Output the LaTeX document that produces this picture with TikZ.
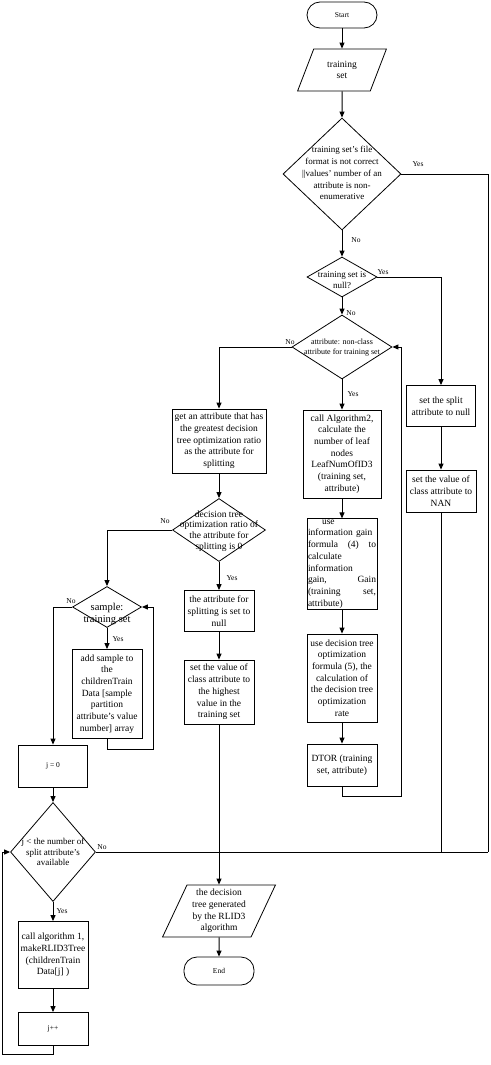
\documentclass[tikz,border=0pt]{standalone}
\usepackage{fontspec}
\setmainfont{Liberation Serif}
\usetikzlibrary{arrows}
\usetikzlibrary{arrows.meta}
\usetikzlibrary{shapes.geometric}

% text of a decision, kept out of the size of the diamond
\newcommand{\dtxt}[2][0pt]{\makebox[0pt]{\smash{\raisebox{\dimexpr-0.25em-#1\relax}{\begin{tabular}{@{}c@{}}#2\end{tabular}}}}}

\begin{document}
\begin{tikzpicture}[x=1pt,y=-1pt,
    >={Triangle[length=6pt,width=5pt]},
    line/.style={line width=1pt},
    box/.style={draw,line width=0.8pt,rectangle,align=center,inner sep=1pt,font=\fontsize{9.5}{11.7}\selectfont},
    dec/.style={draw,line width=0.8pt,diamond,inner sep=0pt},
    io/.style={draw,line width=0.8pt,trapezium,trapezium left angle=65,trapezium right angle=115,trapezium stretches=true,align=center,inner sep=0pt,font=\fontsize{9.5}{11.7}\selectfont},
    term/.style={draw,line width=0.8pt,rectangle,rounded corners=13pt,minimum width=70pt,font=\fontsize{7.5}{9}\selectfont},
    lbl/.style={inner sep=0pt,font=\fontsize{7.5}{9}\selectfont}]

    % keep the page as large as the picture
    \useasboundingbox (0,0) rectangle (490,1065);

    % main column
    \node[term,minimum height=26pt] (start) at (342,15) {Start};
    \node[io,minimum width=89pt,minimum height=42pt] (tset) at (342,70) {training\\set};
    \node[dec,minimum width=118pt,minimum height=112pt,font=\fontsize{9}{11.7}\selectfont] (chk) at (342,174)
      {\dtxt{training set's file\\format is not correct\\||values' number of an\\attribute is non-\\enumerative}};
    \node[dec,minimum width=70pt,minimum height=40pt,font=\fontsize{9}{10.5}\selectfont] (isnull) at (342,277)
      {\dtxt[4pt]{training set is\\null?}};
    \node[dec,minimum width=100pt,minimum height=64pt,font=\fontsize{8}{10}\selectfont] (attr) at (342,347)
      {\dtxt{attribute: non-class\\attribute for training set}};
    \node[box,minimum width=78pt,minimum height=88pt] (alg2) at (342,454)
      {call Algorithm2,\\calculate the\\number of leaf\\nodes\\LeafNumOfID3\\(training set,\\attribute)};
    \node[box,text width=68pt,align=left,minimum height=81pt] (gain) at (342,564)
      {\hspace*{14pt}use\\information gain\\formula\hfill(4)\hfill to\\calculate\\information\\gain,\hfill Gain\\(training\hfill set,\\attribute)};
    \node[box,minimum width=70pt,minimum height=88pt] (dtopt) at (342,678)
      {use decision tree\\optimization\\formula (5), the\\calculation of\\the decision tree\\optimization\\rate};
    \node[box,minimum width=70pt,minimum height=42pt] (dtor) at (342,765) {DTOR (training\\set, attribute)};

    % right column
    \node[box,minimum width=69pt,minimum height=41pt] (rsplit) at (441,406) {set the split\\attribute to null};
    \node[box,minimum width=70pt,minimum height=42pt] (nan) at (441,491) {set the value of\\class attribute to\\NAN};

    % middle column
    \node[box,minimum width=94pt,minimum height=64pt] (getattr) at (219,441)
      {get an attribute that has\\the greatest decision\\tree optimization ratio\\as the attribute for\\splitting};
    \node[dec,minimum width=93pt,minimum height=63pt,font=\fontsize{9.5}{10.8}\selectfont] (iszero) at (219,530)
      {\dtxt[1pt]{decision tree\\optimization ratio of\\the attribute for\\splitting is 0}};
    \node[box,minimum width=70pt,minimum height=41pt] (msplit) at (219,611) {the attribute for\\splitting is set to\\null};
    \node[box,minimum width=70pt,minimum height=64pt] (highval) at (219,692)
      {set the value of\\class attribute to\\the highest\\value in the\\training set};
    \node[io,minimum width=113pt,minimum height=52pt] (out) at (219,911)
      {the decision\\tree generated\\by the RLID3\\algorithm};
    \node[term,minimum height=28pt] (stop) at (219,971) {End};

    % left columns
    \node[dec,minimum width=69pt,minimum height=41pt,font=\fontsize{10.5}{12}\selectfont] (sample) at (107,607)
      {\dtxt[7pt]{sample:\\training set}};
    \node[box,minimum width=70pt,minimum height=89pt] (addsmp) at (107,694)
      {add sample to\\the\\childrenTrain\\Data [sample\\partition\\attribute's value\\number] array};
    \node[box,minimum width=69pt,minimum height=42pt,font=\fontsize{7.5}{9}\selectfont] (jzero) at (53,766) {j = 0};
    \node[dec,minimum width=85pt,minimum height=99pt,font=\fontsize{9}{10.3}\selectfont] (jless) at (53,852)
      {\dtxt[1pt]{j < the number of\\split attribute's\\available}};
    \node[box,minimum width=70pt,minimum height=67pt] (callone) at (53,955)
      {call algorithm 1,\\makeRLID3Tree\\(childrenTrain\\Data[j] )};
    \node[box,minimum width=70pt,minimum height=33pt,font=\fontsize{7.5}{9}\selectfont] (jinc) at (53,1029) {j++};

    % corners of the long lines
    \coordinate (mright) at (488,852);
    \coordinate (rloop) at (401,796);
    \coordinate (sloop) at (153,749);
    \coordinate (jloop) at (2,1054);

    % straight arrows
    \foreach \a/\b in {start/tset,tset/chk,chk/isnull,isnull/attr,attr/alg2,alg2/gain,gain/dtopt,dtopt/dtor,
        rsplit/nan,getattr/iszero,iszero/msplit,msplit/highval,highval/out,out/stop,
        sample/addsmp,jzero/jless,jless/callone,callone/jinc}
      \draw[line,->] (\a) -- (\b);

    % branches
    \draw[line] (chk.east) -| (mright);
    \draw[line] (nan.south) -- (nan.south |- mright);
    \draw[line] (jless.east) -- (mright);
    \draw[line,->] (isnull.east) -| (rsplit.north);
    \draw[line,->] (attr.west) -| (getattr.north);
    \draw[line,->] (iszero.west) -| (sample.north);
    \draw[line,->] (sample.west) -| (jzero.north);

    % loops back
    \draw[line,->] (dtor.south) |- (rloop) |- (attr.east);
    \draw[line,->] (addsmp.south) |- (sloop) |- (sample.east);
    \draw[line,->] (jinc.south) |- (jloop) |- (jless.west);

    % yes / no labels
    \node[lbl] (yes1) at (418,164) {Yes};
    \node[lbl] (no1) at (356,240) {No};
    \node[lbl] (yes2) at (383,272) {Yes};
    \node[lbl] (no2) at (351,313) {No};
    \node[lbl] (no3) at (290,342) {No};
    \node[lbl] (yes3) at (353,394) {Yes};
    \node[lbl] (no4) at (165,521) {No};
    \node[lbl] (yes4) at (232,578) {Yes};
    \node[lbl] (no5) at (71,601) {No};
    \node[lbl] (yes5) at (118,639) {Yes};
    \node[lbl] (no6) at (102,847) {No};
    \node[lbl] (yes6) at (62,911) {Yes};

\end{tikzpicture}
\end{document}
